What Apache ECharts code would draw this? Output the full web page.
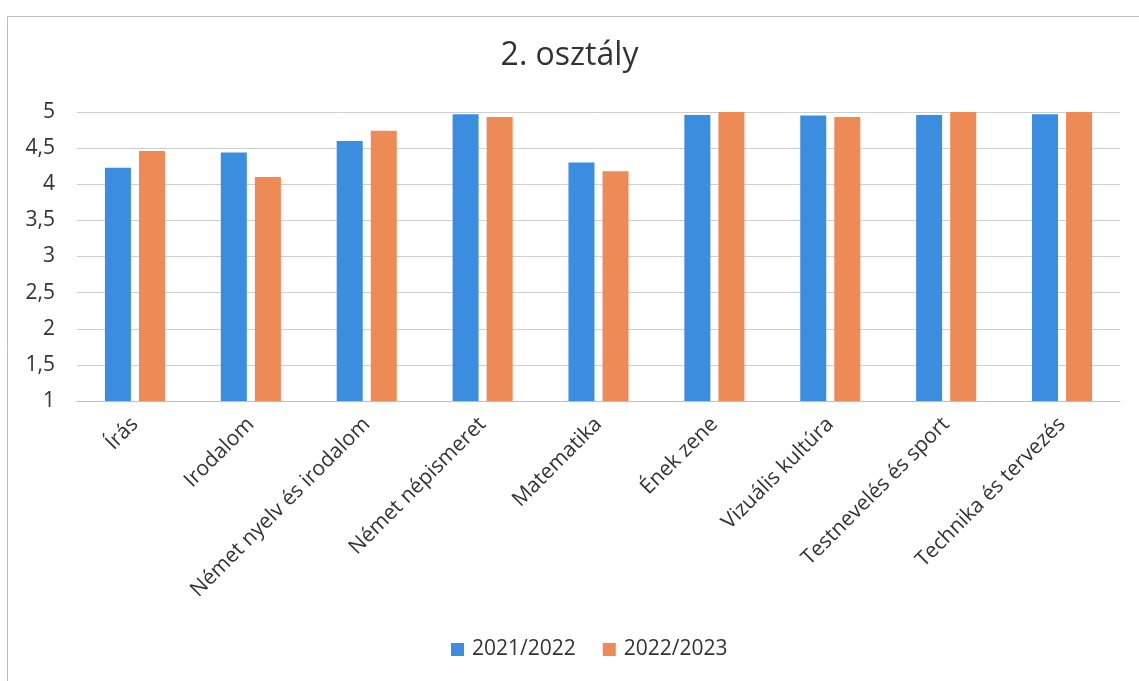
<!DOCTYPE html>
<html>
<head>
<meta charset="utf-8">
<script src="https://cdn.jsdelivr.net/npm/echarts@6/dist/echarts.min.js"></script>
<style>
  html, body { margin: 0; padding: 0; background: #fff; }
  #main { width: 1139px; height: 681px; }
</style>
</head>
<body>
<div id="main"></div>
<script>
// tantárgyak és átlagok
const categories = ['Írás', 'Irodalom', 'Német nyelv és irodalom', 'Német népismeret', 'Matematika', 'Ének zene', 'Vizuális kultúra', 'Testnevelés és sport', 'Technika és tervezés']
const values2122 = [4.23, 4.44, 4.60, 4.97, 4.30, 4.96, 4.95, 4.96, 4.97]
const values2223 = [4.46, 4.10, 4.74, 4.93, 4.18, 5.00, 4.93, 5.00, 5.00]
const yTicks = [1, 1.5, 2, 2.5, 3, 3.5, 4, 4.5, 5]

const font = 'Open Sans'
const textColor = '#333333'
const colors = ['#3b8de0', '#ee8a55']

const myChart = echarts.init(document.getElementById('main'))
const option = {
  color: colors,
  animation: false,
  title: {
    text: '2. osztály',
    left: 'center',
    top: 40,
    padding: 0,
    textStyle: { fontFamily: font, fontSize: 32, fontWeight: 'normal', color: textColor }
  },
  // a szkennelt diagram kerete
  graphic: [{
    type: 'rect',
    shape: { x: 7.5, y: 16.5, width: 1200, height: 700 },
    style: { fill: 'none', stroke: '#bdbdbd', lineWidth: 1 },
    silent: true
  }],
  legend: {
    data: ['2021/2022', '2022/2023'],
    left: 446,
    top: 634,
    itemWidth: 13,
    itemHeight: 13,
    itemGap: 27,
    icon: 'rect',
    textStyle: { fontFamily: font, fontSize: 21, color: textColor, padding: [0, 0, 0, 3] }
  },
  grid: {
    left: 77,
    right: 19,
    top: 112,
    bottom: 280,
    containLabel: false
  },
  xAxis: {
    type: 'category',
    data: categories,
    axisTick: { show: false },
    axisLine: { lineStyle: { color: '#bfbfbf', width: 1 } },
    axisLabel: {
      interval: 0,
      rotate: 45,
      margin: 20,
      fontFamily: font,
      fontSize: 21,
      color: textColor
    }
  },
  yAxis: {
    type: 'value',
    min: 1,
    max: 5,
    interval: 0.5,
    axisLine: { show: false },
    axisTick: { show: false },
    splitLine: { lineStyle: { color: '#cfcfcf', width: 1 } },
    axisLabel: {
      margin: 22,
      fontFamily: font,
      fontSize: 21,
      color: textColor,
      formatter: (value) => {
        const t = yTicks.find(v => Math.abs(v - value) < 1e-9)
        return t === undefined ? '' : String(t).replace('.', ',')
      }
    }
  },
  series: [
    {
      name: '2021/2022',
      type: 'bar',
      barWidth: 26,
      barGap: '31%',
      data: values2122
    },
    {
      name: '2022/2023',
      type: 'bar',
      barWidth: 26,
      data: values2223
    }
  ]
}
myChart.setOption(option)
</script>
</body>
</html>
